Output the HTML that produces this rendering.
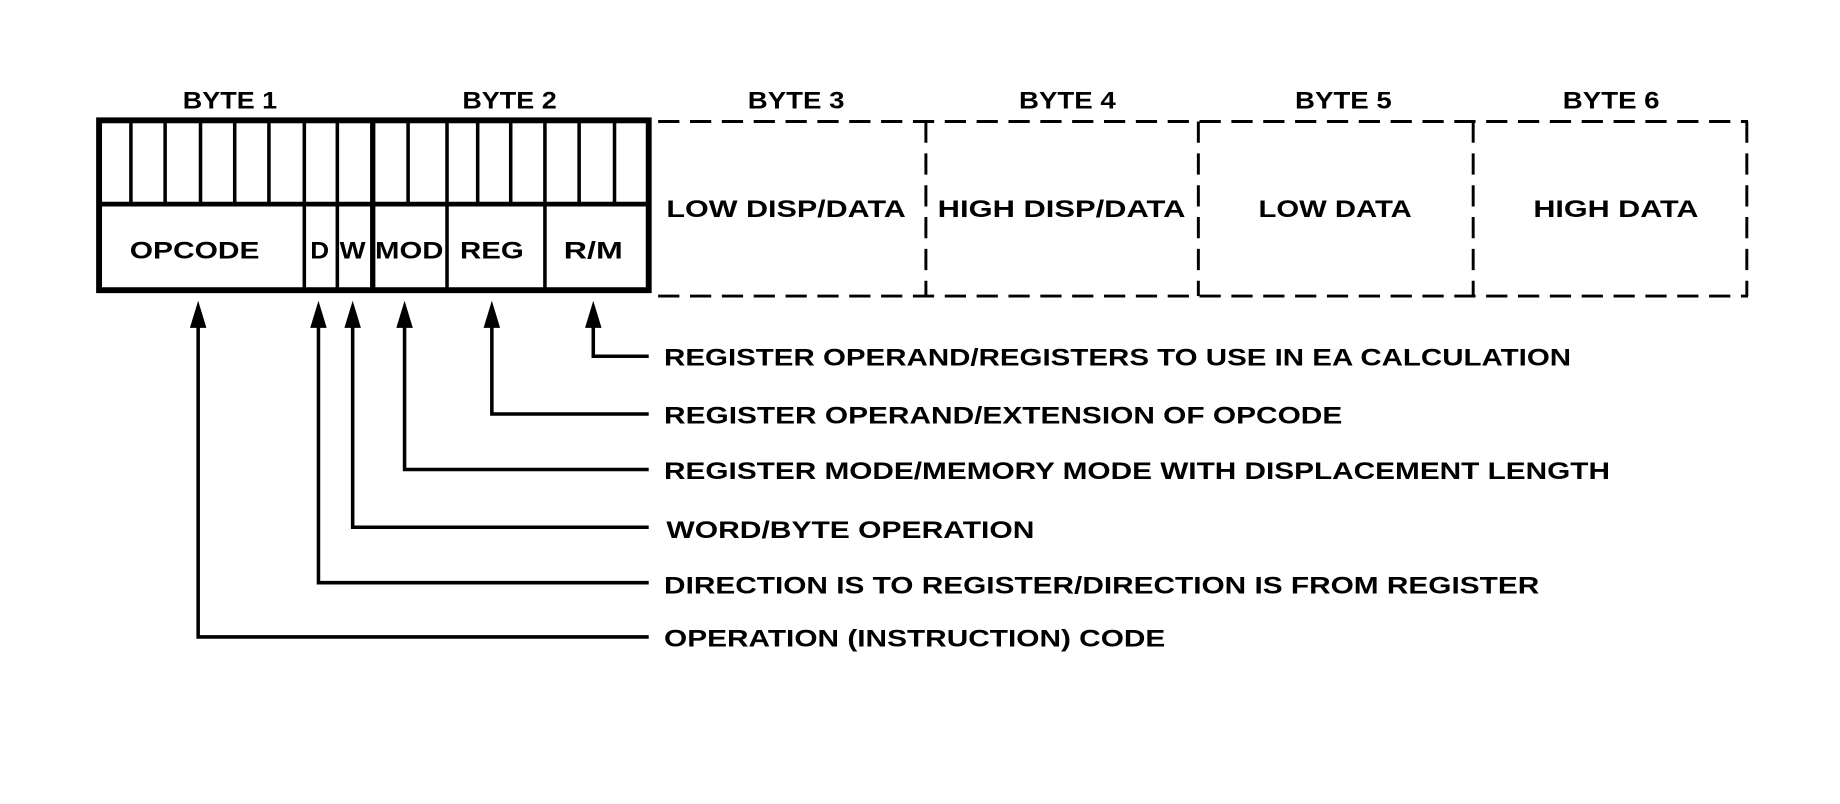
<!DOCTYPE html>
<html><head><meta charset="utf-8"><style>
html,body{margin:0;padding:0;background:#fff;width:1840px;height:804px;overflow:hidden}
svg{display:block}
text{font-family:"Liberation Sans",sans-serif;font-weight:bold;fill:#000}
</style></head><body>
<svg width="1840" height="804" viewBox="0 0 1560 681.6" xmlns="http://www.w3.org/2000/svg">
<g font-size="20">
<text x="155" y="92" textLength="80" lengthAdjust="spacingAndGlyphs">BYTE 1</text>
<text x="392" y="92" textLength="80" lengthAdjust="spacingAndGlyphs">BYTE 2</text>
<text x="634" y="92" textLength="82" lengthAdjust="spacingAndGlyphs">BYTE 3</text>
<text x="864" y="92" textLength="82" lengthAdjust="spacingAndGlyphs">BYTE 4</text>
<text x="1098" y="92" textLength="82" lengthAdjust="spacingAndGlyphs">BYTE 5</text>
<text x="1325" y="92" textLength="82" lengthAdjust="spacingAndGlyphs">BYTE 6</text>
</g>
<rect x="84" y="102" width="466" height="144" fill="none" stroke="#000" stroke-width="5"/>
<line x1="84" y1="173" x2="550" y2="173" stroke="#000" stroke-width="4"/>
<g stroke="#000" stroke-width="3">
<line x1="111" y1="102" x2="111" y2="173"/><line x1="140" y1="102" x2="140" y2="173"/><line x1="170" y1="102" x2="170" y2="173"/><line x1="199" y1="102" x2="199" y2="173"/><line x1="228" y1="102" x2="228" y2="173"/>
<line x1="258" y1="102" x2="258" y2="246"/><line x1="286" y1="102" x2="286" y2="246"/>
<line x1="346" y1="102" x2="346" y2="173"/><line x1="405" y1="102" x2="405" y2="173"/><line x1="433" y1="102" x2="433" y2="173"/><line x1="491" y1="102" x2="491" y2="173"/><line x1="521" y1="102" x2="521" y2="173"/>
<line x1="379" y1="102" x2="379" y2="246"/><line x1="462" y1="102" x2="462" y2="246"/>
</g>
<line x1="316" y1="102" x2="316" y2="246" stroke="#000" stroke-width="4.5"/>
<g stroke="#000" stroke-width="2.5" stroke-dasharray="18,9" fill="none">
<line x1="558" y1="103" x2="1482" y2="103"/>
<line x1="558" y1="251" x2="1482" y2="251"/>
<line x1="785" y1="103" x2="785" y2="251"/>
<line x1="1016" y1="103" x2="1016" y2="251"/>
<line x1="1249" y1="103" x2="1249" y2="251"/>
<line x1="1481" y1="103" x2="1481" y2="251"/>
</g>
<g font-size="20">
<text x="565" y="184" textLength="203" lengthAdjust="spacingAndGlyphs">LOW DISP/DATA</text>
<text x="795" y="184" textLength="210" lengthAdjust="spacingAndGlyphs">HIGH DISP/DATA</text>
<text x="1067" y="184" textLength="130" lengthAdjust="spacingAndGlyphs">LOW DATA</text>
<text x="1300" y="184" textLength="140" lengthAdjust="spacingAndGlyphs">HIGH DATA</text>
<text x="110" y="219" textLength="110" lengthAdjust="spacingAndGlyphs">OPCODE</text>
<text x="263" y="219" textLength="16" lengthAdjust="spacingAndGlyphs">D</text>
<text x="288" y="219" textLength="22" lengthAdjust="spacingAndGlyphs">W</text>
<text x="318" y="219" textLength="58" lengthAdjust="spacingAndGlyphs">MOD</text>
<text x="390" y="219" textLength="54" lengthAdjust="spacingAndGlyphs">REG</text>
<text x="478" y="219" textLength="50" lengthAdjust="spacingAndGlyphs">R/M</text>
</g>
<g stroke="#000" stroke-width="3" fill="none">
<polyline points="503,270 503,302 550,302"/>
<polyline points="417,270 417,351 550,351"/>
<polyline points="343,270 343,398 550,398"/>
<polyline points="299,270 299,447 550,447"/>
<polyline points="270,270 270,494 550,494"/>
<polyline points="168,270 168,540 550,540"/>
</g>
<g fill="#000">
<polygon points="503,255 496,278 510,278"/>
<polygon points="417,255 410,278 424,278"/>
<polygon points="343,255 336,278 350,278"/>
<polygon points="299,255 292,278 306,278"/>
<polygon points="270,255 263,278 277,278"/>
<polygon points="168,255 161,278 175,278"/>
</g>
<g font-size="20">
<text x="563" y="310" textLength="769" lengthAdjust="spacingAndGlyphs">REGISTER OPERAND/REGISTERS TO USE IN EA CALCULATION</text>
<text x="563" y="359" textLength="575" lengthAdjust="spacingAndGlyphs">REGISTER OPERAND/EXTENSION OF OPCODE</text>
<text x="563" y="406" textLength="802" lengthAdjust="spacingAndGlyphs">REGISTER MODE/MEMORY MODE WITH DISPLACEMENT LENGTH</text>
<text x="565" y="456" textLength="312" lengthAdjust="spacingAndGlyphs">WORD/BYTE OPERATION</text>
<text x="563" y="503" textLength="742" lengthAdjust="spacingAndGlyphs">DIRECTION IS TO REGISTER/DIRECTION IS FROM REGISTER</text>
<text x="563" y="548" textLength="425" lengthAdjust="spacingAndGlyphs">OPERATION (INSTRUCTION) CODE</text>
</g>
</svg>
</body></html>
